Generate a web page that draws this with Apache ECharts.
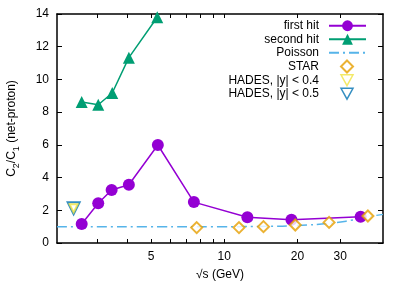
<!DOCTYPE html>
<html><head><meta charset="utf-8">
<script src="https://cdn.jsdelivr.net/npm/echarts@6/dist/echarts.min.js"></script>
<style>html,body{margin:0;padding:0;background:#fff}#c{width:407px;height:286px}</style>
</head><body><div id="c"></div>
<script>
// sqrt(s) in GeV
const firstHitX = [2.59, 3.03, 3.44, 4.05, 5.33, 7.5, 12.45, 18.9, 36.4];
const firstHitY = [1.16, 2.43, 3.24, 3.56, 5.99, 2.5, 1.57, 1.42, 1.61];
const secondHitX = [2.59, 3.03, 3.46, 4.05, 5.3];
const secondHitY = [8.62, 8.45, 9.17, 11.33, 13.8];
const poissonX = [2.05, 5, 10, 15, 20, 27, 33, 39, 45];
const poissonY = [1.0, 1.0, 1.0, 1.02, 1.07, 1.2, 1.38, 1.6, 1.75];
const starX = [7.7, 11.5, 14.5, 19.6, 27, 39];
const starY = [0.94, 0.94, 1.0, 1.1, 1.26, 1.65];
const hades04X = [2.4];
const hades04Y = [2.12];
const hades05X = [2.4];
const hades05Y = [2.12];
const xLabelValues = [5, 10, 20, 30];
const xTickValues = [3, 4, 5, 6, 7, 8, 9, 10, 20, 30];
const yTicks = [0, 2, 4, 6, 8, 10, 12, 14];

const zip = (xs, ys) => xs.map((x, i) => [x, ys[i]]);
const font = 'Liberation Sans, Arial, Helvetica, sans-serif';
const XMIN = 2.05, XMAX = 45;
const legendText = {fontFamily: font, fontSize: 12, color: '#000', lineHeight: 13.5};
const invTri = 'path://M0,0L20,0L10,18Z';

const chart = echarts.init(document.getElementById('c'), null, {renderer: 'canvas'});
chart.setOption({
  animation: false,
  backgroundColor: '#fff',
  textStyle: {fontFamily: font},
  grid: {left: 57, right: 24, top: 14, bottom: 43, containLabel: false, outerBoundsMode: 'none'},
  legend: [{
    orient: 'vertical', right: 40, top: 19, align: 'right', padding: 0,
    itemWidth: 37, itemHeight: 13.5, itemGap: 0,
    textStyle: Object.assign({padding: [0, 5, 0, 0]}, legendText),
    data: ['first hit', 'second hit', {name: 'Poisson', itemStyle: {opacity: 0}}]
  }, {
    orient: 'vertical', right: 53, top: 59.5, align: 'right', padding: 0,
    itemWidth: 12, itemHeight: 12, itemGap: 0,
    textStyle: Object.assign({padding: [0, 17, 0, 0]}, legendText),
    data: [
      'STAR',
      {name: 'HADES, |y| < 0.4', icon: invTri, itemStyle: {color: '#fff', borderColor: '#f0e442', borderWidth: 1.5}},
      {name: 'HADES, |y| < 0.5', icon: invTri, itemStyle: {color: '#fff', borderColor: '#0072b2', borderWidth: 1.5}}
    ]
  }],
  xAxis: [{
    type: 'log', logBase: 10, min: XMIN, max: XMAX,
    name: '√s (GeV)', nameLocation: 'middle', nameGap: 26,
    nameTextStyle: {fontFamily: font, fontSize: 12, color: '#000'},
    axisLine: {show: true, onZero: false, lineStyle: {color: '#000', width: 1.5}},
    axisTick: {show: true, inside: true, length: 4, customValues: xTickValues, lineStyle: {color: '#000'}},
    minorTick: {show: false},
    axisLabel: {show: true, customValues: xLabelValues, margin: 8, fontSize: 12, color: '#000', fontFamily: font},
    splitLine: {show: false}
  }, {
    type: 'log', logBase: 10, min: XMIN, max: XMAX, position: 'top',
    axisLine: {show: true, onZero: false, lineStyle: {color: '#000', width: 1.5}},
    axisTick: {show: true, inside: true, length: 4, customValues: xTickValues, lineStyle: {color: '#000'}},
    axisLabel: {show: false}, splitLine: {show: false}
  }],
  yAxis: [{
    type: 'value', min: 0, max: 14, interval: 2,
    name: '{a|C}{s|2}{a|/C}{s|1}{a| (net-proton)}', nameLocation: 'middle', nameGap: 35,
    nameTextStyle: {
      rich: {
        a: {fontFamily: font, fontSize: 12, color: '#000', verticalAlign: 'top', lineHeight: 16},
        s: {fontFamily: font, fontSize: 9, color: '#000', verticalAlign: 'top', padding: [6, 0, 0, 0], lineHeight: 16}
      }
    },
    axisLine: {show: true, onZero: false, lineStyle: {color: '#000', width: 1.5}},
    axisTick: {show: true, inside: true, length: 5, lineStyle: {color: '#000'}},
    axisLabel: {margin: 8, fontSize: 12, color: '#000', fontFamily: font},
    splitLine: {show: false}
  }, {
    type: 'value', min: 0, max: 14, interval: 2, position: 'right',
    axisLine: {show: true, onZero: false, lineStyle: {color: '#000', width: 1.5}},
    axisTick: {show: true, inside: true, length: 5, lineStyle: {color: '#000'}},
    axisLabel: {show: false}, splitLine: {show: false}
  }],
  series: [
    {
      name: 'Poisson', type: 'line', smooth: true, symbol: 'none', z: 1,
      data: zip(poissonX, poissonY),
      itemStyle: {color: '#56b4e9'},
      lineStyle: {color: '#56b4e9', width: 1.5, type: [10, 4, 2, 4]}
    },
    {
      name: 'first hit', type: 'line', symbol: 'circle', symbolSize: 12, z: 3,
      data: zip(firstHitX, firstHitY),
      itemStyle: {color: '#9400d3'},
      lineStyle: {color: '#9400d3', width: 1.5}
    },
    {
      name: 'second hit', type: 'line', symbol: 'triangle', symbolSize: 12, z: 3,
      data: zip(secondHitX, secondHitY),
      itemStyle: {color: '#009e73'},
      lineStyle: {color: '#009e73', width: 1.5}
    },
    {
      name: 'STAR', type: 'scatter', symbol: 'emptyDiamond', symbolSize: 11, z: 4,
      data: zip(starX, starY),
      itemStyle: {color: '#e69f00', borderColor: '#e69f00', borderWidth: 1.5}
    },
    {
      name: 'HADES, |y| < 0.5', type: 'scatter', symbol: 'emptyTriangle', symbolRotate: 180, symbolSize: 12, z: 5,
      data: zip(hades05X, hades05Y),
      itemStyle: {color: '#0072b2', borderColor: '#0072b2', borderWidth: 2}
    },
    {
      name: 'HADES, |y| < 0.4', type: 'scatter', symbol: 'emptyTriangle', symbolRotate: 180, symbolSize: 8, z: 6,
      data: zip(hades04X, hades04Y),
      itemStyle: {color: '#f0e442', borderColor: '#f0e442', borderWidth: 1.2}
    }
  ]
});
</script></body></html>
